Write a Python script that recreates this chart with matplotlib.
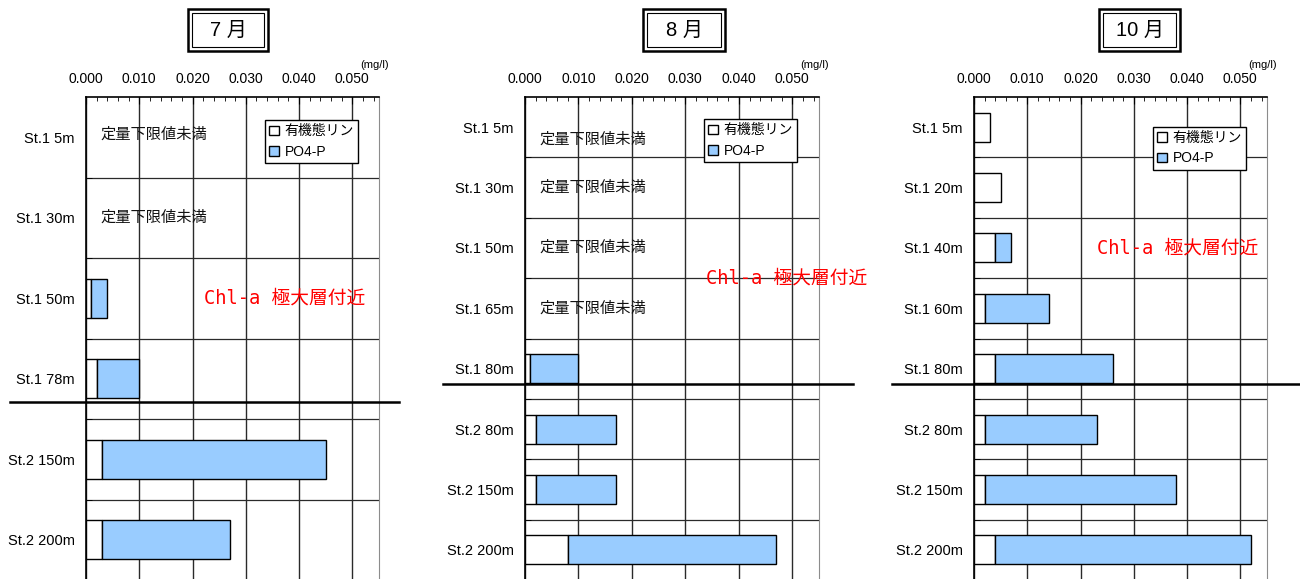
"""Organic-P / PO4-P vertical profiles for Jul, Aug, Oct"""
import numpy as np
import matplotlib.pyplot as plt
from matplotlib.patches import Patch, Rectangle
from matplotlib.transforms import blended_transform_factory

plt.rcParams['font.family'] = ['Liberation Sans', 'Noto Sans CJK JP']

nan = np.nan

months = ["7 月", "8 月", "10 月"]

jul_labels = ["St.1 5m", "St.1 30m", "St.1 50m", "St.1 78m", "St.2 150m", "St.2 200m"]
jul_org = [nan, nan, 0.001, 0.002, 0.003, 0.003]
jul_po4 = [nan, nan, 0.003, 0.008, 0.042, 0.024]

aug_labels = ["St.1 5m", "St.1 30m", "St.1 50m", "St.1 65m", "St.1 80m",
              "St.2 80m", "St.2 150m", "St.2 200m"]
aug_org = [nan, nan, nan, nan, 0.001, 0.002, 0.002, 0.008]
aug_po4 = [nan, nan, nan, nan, 0.009, 0.015, 0.015, 0.039]

oct_labels = ["St.1 5m", "St.1 20m", "St.1 40m", "St.1 60m", "St.1 80m",
              "St.2 80m", "St.2 150m", "St.2 200m"]
oct_org = [0.003, 0.005, 0.004, 0.002, 0.004, 0.002, 0.002, 0.004]
oct_po4 = [0.0, 0.0, 0.003, 0.012, 0.022, 0.021, 0.036, 0.048]

x_ticks = [0.0, 0.01, 0.02, 0.03, 0.04, 0.05]
legend_names = ["有機態リン", "PO4-P"]
below_text = "定量下限値未満"
chl_text = "Chl-a 極大層付近"

# layout (pixels on a 1300x579 canvas)
W, H = 1300, 579
axes_px = [(86, 379), (525, 819), (974, 1267)]
top_px, bot_px = 97, 580
title_px = [(188, 268), (643, 725), (1099, 1180)]
legend_pos = [(0.611, 0.952), (0.609, 0.954), (0.611, 0.938)]
chl_pos = [(0.0221, 2.0), (0.0339, 2.5), (0.0231, 2.0)]
divider = [(-0.259, 1.068, 3.29), (-0.279, 1.116, 4.25), (-0.28, 1.12, 4.25)]
first_row_shift = [-0.03, 0.2, 0.0]

blue = "#99CCFF"
grid_c = "#2a2a2a"

fig = plt.figure(figsize=(13, 5.79), dpi=100)

panels = [(jul_labels, jul_org, jul_po4),
          (aug_labels, aug_org, aug_po4),
          (oct_labels, oct_org, oct_po4)]

for k, (labels, org, po4) in enumerate(panels):
    x0, x1 = axes_px[k]
    ax = fig.add_axes([x0 / W, (H - bot_px) / H, (x1 - x0) / W, (bot_px - top_px) / H])
    n = len(labels)
    y = np.arange(n)
    org = np.array(org, dtype=float)
    po4 = np.array(po4, dtype=float)

    ok = ~np.isnan(org)
    ax.barh(y[ok], org[ok], height=0.48, color="white", edgecolor="black", lw=1.0, zorder=3)
    ok2 = ok & (po4 > 0)
    ax.barh(y[ok2], po4[ok2], left=org[ok2], height=0.48, color=blue,
            edgecolor="black", lw=1.0, zorder=3)

    for i in np.where(~ok)[0]:
        dy = first_row_shift[k] if i == 0 else 0.0
        ax.text(0.0027, i + dy, below_text, fontsize=11, va="center", ha="left", color="#111")

    ax.set_xlim(0, 0.055)
    ax.set_ylim(n - 0.5, -0.5)

    ax.xaxis.tick_top()
    ax.set_xticks(x_ticks)
    ax.set_xticklabels(["%.3f" % v for v in x_ticks], fontsize=10)
    ax.set_xticks(np.arange(0, 0.0551, 0.002), minor=True)
    ax.tick_params(axis="x", which="major", direction="in", length=5, pad=8, top=True, bottom=False)
    ax.tick_params(axis="x", which="minor", direction="in", length=3, top=True, bottom=False)
    ax.grid(axis="x", which="major", color=grid_c, lw=1.0, zorder=1)

    ax.set_yticks(y)
    ax.set_yticklabels(labels, fontsize=10.5)
    ax.set_yticks(np.arange(n - 1) + 0.5, minor=True)
    ax.tick_params(axis="y", which="major", length=0, pad=8)
    ax.tick_params(axis="y", which="minor", direction="in", length=4)
    ax.grid(axis="y", which="minor", color=grid_c, lw=0.9, zorder=1)

    ax.spines["bottom"].set_visible(False)
    ax.spines["right"].set_color("#8c8c8c")
    ax.spines["top"].set_linewidth(1.2)
    ax.spines["left"].set_linewidth(1.2)

    ax.annotate("(mg/l)", xy=(1, 1), xycoords="axes fraction", xytext=(-4, 32),
                textcoords="offset pixels", ha="center", va="center", fontsize=8)

    handles = [Patch(facecolor="white", edgecolor="black", lw=1.0),
               Patch(facecolor=blue, edgecolor="black", lw=1.0)]
    leg = ax.legend(handles, legend_names, loc="upper left", bbox_to_anchor=legend_pos[k],
                    fontsize=10, handlelength=0.7, handleheight=0.7, handletextpad=0.4,
                    labelspacing=0.45, borderpad=0.3, borderaxespad=0, fancybox=False,
                    framealpha=1, edgecolor="black")
    leg.get_frame().set_linewidth(1.0)
    leg.set_zorder(5)

    cx, cy = chl_pos[k]
    ax.text(cx, cy, chl_text, color="red", fontsize=13.5, va="center", ha="left",
            family=["DejaVu Sans Mono", "Noto Sans CJK JP"], clip_on=False, zorder=6)

    dx0, dx1, dy = divider[k]
    tr = blended_transform_factory(ax.transAxes, ax.transData)
    ax.plot([dx0, dx1], [dy, dy], color="black", lw=1.8, transform=tr, clip_on=False, zorder=4)

    # double-framed month title
    t0, t1 = title_px[k]
    fig.add_artist(Rectangle((t0 / W, (H - 51) / H), (t1 - t0) / W, 42 / H,
                             transform=fig.transFigure, fill=False, lw=1.8, ec="black"))
    fig.add_artist(Rectangle(((t0 + 4) / W, (H - 47) / H), (t1 - t0 - 8) / W, 34 / H,
                             transform=fig.transFigure, fill=False, lw=0.8, ec="black"))
    fig.text((t0 + t1) / 2 / W, (H - 30) / H, months[k], fontsize=14.5, ha="center", va="center")

fig.savefig("out.png", dpi=100)
